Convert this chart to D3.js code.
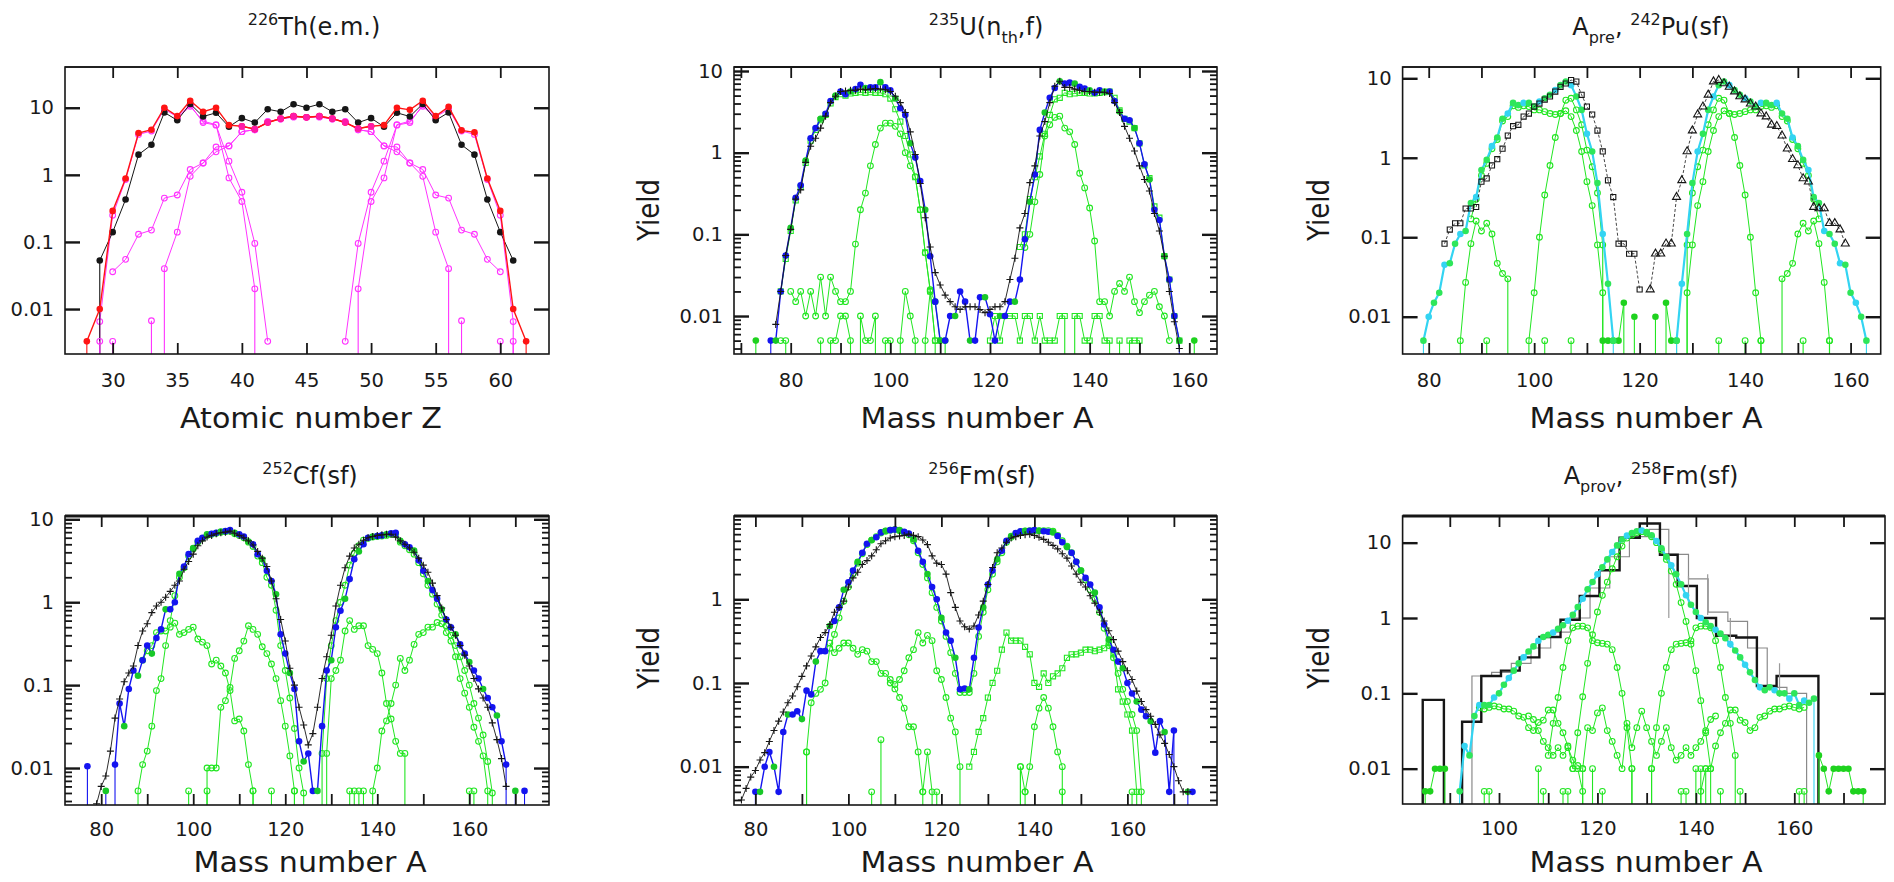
<!DOCTYPE html>
<html>
<head>
<meta charset="utf-8">
<script src="https://cdn.jsdelivr.net/npm/d3@7"></script>
<style>
  body { margin: 0; background: #fff; }
  svg { display: block; }
  text { font-family: "DejaVu Sans", sans-serif; fill: #1a1a1a; white-space: pre; }
</style>
</head>
<body>
<svg id="chart" width="1894" height="882"></svg>
<script>
// ---------- data: yields per mass (or charge) number, series start at the *0 constant ----------

// 226Th (e.m.) - atomic number Z
const thRed0 = 27;
const thRed = [0, 0.0033, 0.01, 0.29, 0.88, 4.2, 4.7, 10, 7.5, 12.7, 8.7, 10, 5.5, 5.3, 4.8, 6.0, 6.9, 7.5, 7.2, 7.5,
  6.9, 6.0, 4.9, 5.3, 5.5, 10, 9.3, 12.7, 7.5, 10.3, 4.6, 4.3, 0.88, 0.29, 0.01, 0.0033, 0];
const thSum0 = 40;
const thSum = [5.3, 4.8, 6.0, 6.9, 7.5, 7.2, 7.5, 6.9, 6.0, 4.9, 5.3];
const thExp0 = 28;
const thExp = [0, 0.053, 0.14, 0.43, 2.0, 2.8, 8.5, 6.5, 11.4, 7.4, 8.4, 5.2, 7.0, 6.0, 9.5, 8.7, 11.3, 10, 11.3, 8.7,
  9.5, 6.0, 7.0, 5.2, 8.4, 7.4, 11.4, 6.5, 8.5, 2.8, 2.0, 0.43, 0.14, 0.053];
const thLtA0 = 28;
const thLtA = [0, 0.0065, 0.25, 0.85, 4.0, 4.5, 9.5, 7.3, 11, 6.0, 5.5, 1.6, 0.55, 0.095, 0.0033];
const thLtB0 = 35;
const thLtB = [7.0, 10.5, 6.3, 5.6, 0.9, 0.4, 0.02, 0];
const thHvA0 = 48;
const thHvA = [0.0033, 0.095, 0.55, 1.6, 5.5, 6.0, 11, 7.3, 9.5, 4.5, 4.0, 0.85, 0.25, 0.0065, 0];
const thHvB0 = 48;
const thHvB = [0, 0.02, 0.4, 0.9, 5.6, 6.3, 10.5, 7.0];
const thBrC0 = 30;
const thBrC = [0.036, 0.055, 0.13, 0.15, 0.45, 0.5, 1.2, 1.5, 2.6, 2.7, 4.4, 4.7, 6.2, 6.8, 7.3, 7.2, 7.3, 6.8, 6.2, 4.7,
  4.4, 2.7, 2.6, 1.5, 1.2, 0.5, 0.45, 0.15, 0.13, 0.055, 0.036];
const thBrD0 = 33;
const thBrD = [0, 0.04, 0.14, 0.95, 1.5, 2.2, 2.7, 4.4, 4.7, 6.2, 6.8, 7.3, 7.2, 7.3, 6.8, 6.2, 4.7, 4.4, 2.7, 2.2,
  1.5, 0.95, 0.14, 0.04, 0];
const thIso = [[29, 0.0033], [30, 0.0033], [33, 0.0067], [57, 0.0067], [60, 0.0033], [61, 0.0033]];

// 235U (nth, f)
const uExp0 = 77;
const uExp = [0.0079, 0.02, 0.055, 0.115, 0.27, 0.35, 0.76, 1.2, 1.5, 2.0,
  2.8, 4.1, 4.9, 5.6, 5.7, 5.8, 5.8, 6.0, 5.9, 6.0,
  6.1, 6.0, 5.9, 5.6, 4.9, 4.1, 3.1, 1.8, 0.95, 0.42,
  0.16, 0.07, 0.034, 0.024, 0.018, 0.015, 0.013, 0.012, 0.013, 0.013,
  0.013, 0.012, 0.011, 0.012, 0.013, 0.013, 0.015, 0.028, 0.051, 0.12,
  0.18, 0.43, 0.69, 1.6, 2.4, 4.1, 6.5, 7.5, 6.3, 6.3,
  6.0, 5.8, 5.6, 5.6, 5.5, 5.5, 5.5, 5.3, 4.1, 3.1,
  2.1, 1.5, 1.05, 0.69, 0.47, 0.34, 0.18, 0.11, 0.054, 0.02,
  0.0085, 0.004];
const uCalc0 = 75;
const uCalc = [0, 0.005, 0.005, 0.02, 0.055, 0.12, 0.28, 0.4, 0.8, 1.5,
  2.0, 2.6, 3.0, 4.3, 5.0, 5.6, 5.2, 5.6, 6.0, 6.8,
  6.2, 6.3, 6.3, 7.3, 6.3, 5.8, 4.6, 3.5, 2.9, 1.3,
  0.87, 0.45, 0.2, 0.054, 0.015, 0.005, 0.005, 0.01, 0.01, 0.02,
  0.015, 0.005, 0.005, 0.017, 0.017, 0.0105, 0.005, 0.01, 0.01, 0.015,
  0.015, 0.028, 0.087, 0.25, 0.54, 1.9, 3.1, 4.7, 6.2, 7.5,
  7.0, 7.2, 7.0, 6.4, 6.1, 5.8, 5.4, 5.8, 5.6, 5.6,
  4.3, 3.2, 2.6, 2.5, 2.0, 1.3, 0.72, 0.47, 0.2, 0.15,
  0.054, 0.028, 0.01, 0.005, 0];
const uBroadL0 = 78;
const uBroadL = [0.02, 0.05, 0.11, 0.26, 0.38, 0.75, 1.4, 1.9, 2.5, 2.9, 4.0, 4.8, 5.2, 5.0, 5.3, 5.4, 5.5, 5.4, 5.5, 5.4,
  5.4, 5.2, 4.6, 3.4, 2.4, 1.6, 0.95, 0.5, 0.2, 0.06, 0.02, 0.005];
const uNarrowL0 = 80;
const uNarrowL = [0.02, 0.015, 0.02, 0.01, 0.02, 0.01, 0.03, 0.01, 0.03, 0.02, 0.015, 0.015, 0.02, 0.076, 0.2, 0.32,
  0.69, 1.26, 2.0, 2.3, 2.3, 2.1, 1.7, 1.0, 0.69, 0.51, 0.2, 0.059, 0.021, 0.005, 0];
const uBroadH0 = 126;
const uBroadH = [0.07, 0.1, 0.27, 0.5, 0.9, 1.7, 2.9, 4.5, 4.7, 5.4, 5.2, 5.3, 5.4, 5.4, 5.3, 5.3, 5.4, 5.5, 5.6, 4.7,
  3.3, 2.6, 2.4, 2.0, 1.3, 0.7, 0.49, 0.22, 0.16, 0.054, 0.028, 0.01, 0.005];
const uNarrowH0 = 127;
const uNarrowH = [0.069, 0.1, 0.25, 0.54, 1.6, 2.2, 2.7, 2.8, 2.0, 1.8, 1.26, 0.56, 0.37, 0.21, 0.083, 0.015, 0.015,
  0.01, 0.02, 0.025, 0.02, 0.03, 0.015, 0.011, 0.015, 0.018, 0.02, 0.013, 0.01, 0.005];
const uNoiseL0 = 78;
const uNoiseL = [0.005, 0.005, 0, 0, 0, 0, 0, 0, 0.005, 0, 0.005, 0.005, 0.01, 0.01, 0.005, 0, 0.01, 0.005, 0.005, 0.01,
  0, 0.005, 0.005, 0, 0.005, 0.02, 0.01, 0.005, 0, 0.005, 0.02, 0.015, 0.005, 0.005, 0];
const uNoiseH0 = 120;
const uNoiseH = [0.005, 0.01, 0.005, 0.01, 0.01, 0.01, 0.005, 0.01, 0.01, 0.005, 0.01, 0.005, 0.005, 0.005, 0.01, 0.01,
  0, 0.01, 0.01, 0.005, 0.005, 0.01, 0.01, 0.005, 0.005, 0, 0.005, 0, 0.005, 0.005, 0.005, 0];
const uIso = [[73, 0.005], [161, 0.005]];

// A_pre, 242Pu (sf)
const puExpL0 = 83;
const puExpL = [0.083, 0.125, 0.15, 0.15, 0.23, 0.23, 0.24, 0.5, 0.55, 0.8, 0.96, 1.3, 1.9, 2.5, 2.6, 3.3, 3.6, 4.4, 4.8,
  5.4, 5.9, 6.8, 7.8, 8.6, 9.5, 9.1, 6.2, 4.4, 3.5, 2.2, 1.2, 0.52, 0.32, 0.083, 0.083, 0.062, 0.062, 0.022];
const puExpH0 = 122;
const puExpH = [0.022, 0.062, 0.062, 0.083, 0.083, 0.32, 0.52, 1.2, 2.2, 3.5, 4.4, 6.2, 9.1, 9.5, 8.6, 7.8, 6.8, 5.9,
  5.4, 4.8, 4.4, 3.6, 3.3, 2.6, 2.5, 1.9, 1.3, 0.96, 0.8, 0.55, 0.5, 0.24, 0.23, 0.23, 0.15, 0.15, 0.125, 0.083];
const puCalcL0 = 78;
const puCalcL = [0, 0.005, 0.01, 0.015, 0.02, 0.045, 0.047, 0.083, 0.11, 0.12, 0.27, 0.32, 0.7, 0.94, 1.4, 1.8, 3.1, 3.6,
  4.9, 4.6, 4.9, 4.9, 4.4, 5.1, 5.6, 6.2, 7.1, 8.2, 9.1, 8.2, 5.9, 4.0, 2.0, 1.2, 0.48, 0.11, 0.026, 0.005, 0];
const puCalcH0 = 126;
const puCalcH = [0, 0.005, 0.026, 0.11, 0.48, 1.2, 2.0, 4.0, 5.9, 8.2, 9.1, 8.2, 7.1, 6.2, 5.6, 5.1, 4.4, 4.9, 4.9, 4.6,
  4.9, 3.6, 3.1, 1.8, 1.4, 0.94, 0.7, 0.32, 0.27, 0.12, 0.11, 0.083, 0.047, 0.045, 0.02, 0.015, 0.01, 0.005, 0];
const puNarrowL0 = 98;
const puNarrowL = [0, 0.005, 0.02, 0.1, 0.34, 0.8, 1.8, 3.6, 5.3, 5.6, 4.0, 2.6, 1.25, 0.77, 0.36, 0.08, 0];
const puNarrowH0 = 128;
const puNarrowH = [0, 0.08, 0.36, 0.77, 1.25, 2.6, 4.0, 5.6, 5.3, 3.6, 1.8, 0.8, 0.34, 0.1, 0.02, 0.005, 0];
const puBroadL0 = 88;
const puBroadL = [0.17, 0.3, 0.6, 0.85, 1.3, 1.7, 2.9, 3.3, 4.5, 4.3, 4.5, 4.4, 4.0, 4.0, 3.8, 3.6, 3.5, 3.6, 3.9, 3.3,
  2.2, 1.2, 0.5, 0.25, 0.08, 0.02, 0];
const puBroadH0 = 128;
const puBroadH = [0, 0.02, 0.08, 0.25, 0.5, 1.2, 2.2, 3.3, 3.9, 3.6, 3.5, 3.6, 3.8, 4.0, 4.0, 4.4, 4.5, 4.3, 4.5, 3.3,
  2.9, 1.7, 1.3, 0.85, 0.6, 0.3, 0.17];
const puSmallL0 = 85;
const puSmallL = [0, 0.005, 0.027, 0.083, 0.16, 0.12, 0.15, 0.11, 0.047, 0.035, 0.03, 0];
const puSmallH0 = 146;
const puSmallH = [0, 0.03, 0.035, 0.047, 0.11, 0.15, 0.12, 0.16, 0.083, 0.027, 0.005, 0];
const puLowMid0 = 112;
const puLowMid = [0, 0.005, 0.005, 0.005, 0.005, 0.015, 0, 0.01, 0, 0, 0, 0.01, 0, 0.015, 0.005, 0.005, 0];
const puIso = [[91, 0.005], [102, 0.005], [107, 0.005], [135, 0.005], [140, 0.005], [143, 0.005], [151, 0.005], [156, 0.005]];

// 252Cf (sf)
const cfExp0 = 79;
const cfExp = [0.0037, 0.006, 0.008, 0.016, 0.04, 0.068, 0.11, 0.14, 0.17, 0.3,
  0.45, 0.55, 0.75, 0.9, 1.0, 1.15, 1.35, 1.6, 1.8, 2.5,
  3.1, 3.8, 4.8, 5.5, 6.1, 6.4, 6.7, 6.9, 7.0, 7.2,
  6.8, 6.4, 6.0, 5.5, 4.9, 4.1, 3.4, 2.7, 1.8, 1.1,
  0.62, 0.34, 0.16, 0.1, 0.054, 0.033, 0.019, 0.026, 0.054, 0.12,
  0.22, 0.4, 0.9, 1.6, 2.6, 3.6, 4.5, 5.0, 5.6, 6.0,
  6.2, 6.4, 6.5, 6.6, 6.6, 6.1, 5.5, 5.0, 4.5, 4.0,
  3.4, 2.8, 2.3, 1.7, 1.2, 0.85, 0.62, 0.5, 0.4, 0.3,
  0.23, 0.17, 0.12, 0.09, 0.07, 0.054, 0.035, 0.022, 0.013, 0.006];
const cfCalc0 = 76;
const cfCalc = [0, 0.0105, 0, 0, 0, 0.0053, 0, 0.011, 0.06, 0.032,
  0.09, 0.15, 0.13, 0.2, 0.3, 0.24, 0.37, 0.47, 0.82, 0.82,
  1.0, 2.2, 2.7, 3.8, 4.5, 5.5, 6.0, 6.6, 6.7, 6.9,
  7.1, 7.2, 7.4, 6.9, 6.6, 6.2, 5.4, 5.0, 3.8, 3.3,
  2.4, 1.8, 1.25, 0.41, 0.24, 0.14, 0.09, 0.021, 0.012, 0.015,
  0.0053, 0.0053, 0.032, 0.15, 0.2, 0.5, 0.79, 1.1, 1.9, 3.3,
  4.1, 5.0, 6.0, 6.2, 6.3, 6.4, 6.6, 6.8, 6.9, 5.5,
  5.0, 4.6, 4.2, 3.2, 2.4, 1.8, 1.4, 1.1, 0.82, 0.62,
  0.5, 0.41, 0.31, 0.24, 0.19, 0.15, 0.12, 0.09, 0.07, 0.054,
  0.043, 0.021, 0.011, 0, 0.0053, 0, 0.0053, 0];
const cfMainL0 = 87;
const cfMainL = [0, 0.0053, 0.011, 0.016, 0.032, 0.086, 0.12, 0.3, 0.6, 1.2, 2.0, 2.6, 3.6, 4.4, 5.3, 5.9, 6.4, 6.6, 6.8,
  7.0, 7.1, 7.2, 6.7, 6.4, 6.0, 5.3, 4.7, 3.6, 3.0, 2.0, 1.6, 0.8, 0.3, 0.15, 0.07, 0.03, 0.01, 0.005, 0];
const cfMainH0 = 127;
const cfMainH = [0, 0.015, 0.12, 0.3, 0.6, 1.0, 1.6, 2.8, 3.9, 4.8, 5.6, 5.9, 6.1, 6.2, 6.3, 6.4, 6.6, 6.6, 5.3, 4.8,
  4.3, 3.8, 3.0, 2.2, 1.6, 1.25, 0.95, 0.7, 0.52, 0.4, 0.3, 0.22, 0.15, 0.1, 0.06, 0.04, 0.025, 0.012, 0.005, 0];
const cfHumpL10 = 89;
const cfHumpL1 = [0.2, 0.26, 0.3, 0.43, 0.45, 0.45, 0.5, 0.56, 0.41, 0.43, 0.47, 0.5, 0.36, 0.33, 0.3, 0.18, 0.2, 0.17,
  0.14, 0.086, 0.037, 0.039, 0.028, 0.011, 0.0053, 0];
const cfHumpL20 = 102;
const cfHumpL2 = [0, 0.01, 0.01, 0.01, 0.054, 0.065, 0.094, 0.21, 0.26, 0.34, 0.52, 0.47, 0.41, 0.29, 0.24, 0.18, 0.12,
  0.065, 0.032, 0.014, 0.0053, 0];
const cfHumpH10 = 128;
const cfHumpH1 = [0, 0.015, 0.12, 0.15, 0.2, 0.45, 0.6, 0.47, 0.52, 0.52, 0.3, 0.27, 0.24, 0.14, 0.06, 0.039, 0.021,
  0.015, 0.015, 0];
const cfHumpH20 = 138;
const cfHumpH2 = [0, 0.0053, 0.01, 0.028, 0.037, 0.06, 0.1, 0.21, 0.15, 0.2, 0.31, 0.41, 0.43, 0.5, 0.5, 0.57, 0.55,
  0.43, 0.34, 0.22, 0.12, 0.08, 0.054, 0.031, 0.021, 0.014, 0.0053, 0];
const cfIso = [[99, 0.0053], [103, 0.0053], [113, 0.0053], [117, 0.0053], [122, 0.0053], [134, 0.0053], [135, 0.0053],
  [136, 0.0053], [137, 0.0053], [160, 0.0053], [161, 0.0053]];

// 256Fm (sf)
const fmExp0 = 77;
const fmExp = [0.004, 0.0055, 0.0075, 0.009, 0.012, 0.0147, 0.02, 0.027, 0.035, 0.045,
  0.058, 0.07, 0.09, 0.12, 0.16, 0.21, 0.27, 0.35, 0.4, 0.5,
  0.7, 0.8, 0.95, 1.4, 1.8, 2.1, 2.6, 2.9, 3.3, 3.9,
  4.6, 5.0, 5.4, 5.6, 5.7, 5.8, 6.0, 5.8, 5.6, 5.1,
  4.5, 3.3, 2.7, 2.6, 2.0, 1.2, 0.8, 0.55, 0.47, 0.44,
  0.48, 0.65, 0.95, 1.5, 2.4, 3.6, 4.1, 4.8, 5.4, 5.6,
  5.8, 5.9, 6.0, 5.8, 5.5, 5.2, 4.8, 4.4, 4.0, 3.5,
  3.1, 2.5, 2.0, 1.6, 1.4, 1.1, 0.9, 0.7, 0.55, 0.42,
  0.33, 0.24, 0.18, 0.14, 0.11, 0.08, 0.06, 0.048, 0.04, 0.032,
  0.024, 0.019, 0.014, 0.01, 0.0068, 0.005, 0.005];
const fmCalc0 = 79;
const fmCalc = [0, 0.005, 0.005, 0.01, 0.015, 0.01, 0.005, 0.026, 0.042, 0.042,
  0.046, 0.037, 0.081, 0.073, 0.18, 0.24, 0.24, 0.48, 0.55, 0.8,
  1.3, 1.6, 2.2, 2.8, 3.6, 4.6, 5.1, 5.5, 6.3, 6.6,
  6.7, 6.8, 6.7, 6.4, 6.1, 5.2, 3.8, 2.8, 2.0, 1.4,
  1.0, 0.6, 0.4, 0.32, 0.2, 0.084, 0.086, 0.084, 0.2, 0.46,
  0.8, 1.5, 2.2, 3.0, 3.8, 5.0, 5.7, 6.2, 6.5, 6.6,
  6.6, 6.7, 6.6, 6.5, 6.4, 6.3, 5.7, 4.8, 4.2, 3.6,
  2.8, 2.2, 1.8, 1.5, 1.2, 0.8, 0.5, 0.33, 0.25, 0.18,
  0.15, 0.1, 0.075, 0.06, 0.048, 0.04, 0.035, 0.0147, 0.035, 0.026,
  0.005, 0.027, 0, 0, 0.005, 0.005];
const fmMain0 = 90;
const fmMain = [0, 0.015, 0.058, 0.075, 0.084, 0.1, 0.26, 0.38, 0.6, 0.95,
  1.4, 2.0, 2.7, 3.5, 4.5, 5.1, 5.6, 6.2, 6.5, 6.7,
  6.8, 6.6, 6.3, 5.9, 5.0, 3.6, 2.6, 1.8, 1.2, 0.8,
  0.55, 0.36, 0.23, 0.13, 0.077, 0.077, 0.077, 0.13, 0.36, 0.7,
  1.3, 2.0, 2.8, 3.6, 4.8, 5.5, 6.1, 6.4, 6.5, 6.6,
  6.6, 6.6, 6.6, 6.6, 6.5, 5.8, 5.0, 4.3, 3.6, 2.8,
  2.2, 1.7, 1.3, 1.0, 0.7, 0.45, 0.28, 0.2, 0.13, 0.084,
  0.06, 0.042, 0.027, 0.005, 0];
const fmLowL0 = 96;
const fmLowL = [0.3, 0.23, 0.26, 0.3, 0.3, 0.26, 0.22, 0.25, 0.24, 0.18, 0.18, 0.13, 0.13, 0.11, 0.096, 0.11, 0.14, 0.2,
  0.25, 0.4, 0.3, 0.37, 0.32, 0.14, 0.11, 0.067, 0.038, 0.026, 0.01, 0];
const fmLowH0 = 126;
const fmLowH = [0.01, 0.015, 0.026, 0.038, 0.067, 0.1, 0.14, 0.25, 0.4, 0.32, 0.32, 0.32, 0.27, 0.22, 0.1, 0.09, 0.13,
  0.1, 0.12, 0.13, 0.15, 0.2, 0.22, 0.22, 0.23, 0.25, 0.25, 0.24, 0.25, 0.26, 0.3, 0.22, 0.084, 0.06, 0.042, 0.027,
  0.005, 0];
const fmDescL0 = 109;
const fmDescL = [0.1, 0.085, 0.067, 0.05, 0.03, 0.03, 0.015, 0.005, 0.015, 0.005, 0];
const fmDescH0 = 136;
const fmDescH = [0, 0.01, 0.005, 0.01, 0.03, 0.05, 0.067, 0.05, 0.03, 0.015, 0.01, 0];
const fmIso = [[91, 0.015], [105, 0.005], [107, 0.021], [116, 0.005], [119, 0.005], [137, 0.01], [138, 0.005],
  [146, 0.005], [161, 0.005]];

// A_prov, 258Fm (sf)
const fm8HistEdges = [84.5, 88.8, 92.5, 96.4, 100.4, 104.2, 108.2, 112.5, 116.4, 120.4, 124.5, 128.6, 132.7, 136.3,
  140.2, 144.1, 148.2, 152.4, 156.4, 160.4, 164.9];
const fm8Hist = [0.082, 0, 0.042, 0.17, 0.2, 0.3, 0.56, 0.95, 1.96, 4.3, 11.6, 18, 6.9, 2.66, 1.0, 0.58, 0.55, 0.125,
  0.17, 0.17];
const fm8Hist2Edges = [94.5, 98.5, 102.5, 106.5, 110.5, 114.5, 118.5, 122.5, 126.5, 130.5, 134.5, 138.5, 142.5, 146.5,
  150.5, 154.5, 158.5, 162.5];
const fm8Hist2 = [0.17, 0.19, 0.25, 0.4, 0.65, 1.0, 2.5, 6.5, 12, 15, 7, 3.3, 1.2, 0.9, 0.4, 0.12, 0.1];
const fm8Err = [[134.5, 1.0, 7.0], [138.5, 1.5, 3.6], [142.4, 1.1, 3.8], [147, 0.4, 1.0], [157, 0.09, 0.25]];
const fm8Calc0 = 91;
const fm8Calc = [0, 0.005, 0.02, 0.015, 0.05, 0.07, 0.07, 0.07, 0.088, 0.1,
  0.13, 0.16, 0.2, 0.25, 0.3, 0.36, 0.42, 0.5, 0.56, 0.6,
  0.64, 0.72, 0.8, 0.92, 1.1, 1.4, 1.8, 2.4, 3.0, 3.8,
  4.7, 6.0, 7.5, 9.2, 11, 12.4, 13.4, 14.2, 14.5, 13.8,
  12.5, 10.5, 8.4, 6.5, 5.0, 3.8, 2.8, 2.0, 1.5, 1.2,
  1.0, 0.88, 0.78, 0.7, 0.62, 0.54, 0.45, 0.37, 0.3, 0.24,
  0.19, 0.15, 0.12, 0.11, 0.12, 0.11, 0.1, 0.1, 0.085, 0.1,
  0.07, 0.08, 0.075, 0.085, 0];
const fm8Main0 = 115;
const fm8Main = [0.01, 0.03, 0.09, 0.25, 0.6, 1.2, 2.0, 3.0, 4.5, 6.5, 9.0, 11.5, 12.6, 13.6, 14.0, 13.4, 12.0, 10.0, 8.0,
  6.0, 4.2, 2.8, 1.6, 0.9, 0.45, 0.2, 0.08, 0.03, 0.01, 0];
const fm8HumpL0 = 110;
const fm8HumpL = [0.015, 0.04, 0.088, 0.22, 0.5, 0.74, 0.78, 0.78, 0.74, 0.5, 0.47, 0.46, 0.45, 0.38, 0.22, 0.1, 0.035,
  0.01, 0];
const fm8HumpH0 = 130;
const fm8HumpH = [0, 0.01, 0.035, 0.1, 0.22, 0.38, 0.45, 0.46, 0.47, 0.5, 0.74, 0.78, 0.78, 0.74, 0.5, 0.22, 0.088,
  0.04, 0.015, 0];
const fm8Zig0 = 106;
const fm8Zig = [0.05, 0.045, 0.032, 0.023, 0.019, 0.015, 0.019, 0.015, 0.019, 0.013, 0.011, 0.01, 0.035, 0.032, 0.055,
  0.064, 0.032, 0.023, 0.015, 0.01, 0.04, 0.019, 0.035, 0.058, 0.035, 0.023, 0.015, 0.023, 0.035, 0.019, 0.013, 0.015,
  0.019, 0.015, 0.019, 0.023, 0.032, 0.045, 0.05];
const fm8BroadL0 = 96;
const fm8BroadL = [0.065, 0.062, 0.065, 0.068, 0.066, 0.062, 0.062, 0.058, 0.05, 0.048, 0.035, 0.032, 0.041, 0.044,
  0.06, 0.06, 0.04, 0.03, 0.02, 0.01, 0.01, 0.005, 0];
const fm8BroadR0 = 140;
const fm8BroadR = [0, 0.005, 0.01, 0.01, 0.02, 0.03, 0.04, 0.06, 0.06, 0.044, 0.041, 0.032, 0.035, 0.048, 0.05, 0.058,
  0.062, 0.062, 0.066, 0.068, 0.065, 0.062, 0.065];
const fm8LowL0 = 84;
const fm8LowL = [0, 0.005, 0.005, 0.01, 0.01, 0.01, 0];
const fm8LowR0 = 164;
const fm8LowR = [0, 0.015, 0.01, 0.005, 0.01, 0.01, 0.01, 0.01, 0.005, 0.005, 0.005, 0];
const fm8Iso = [[97, 0.005], [98, 0.005], [108, 0.01], [109, 0.005], [113, 0.005], [114, 0.005], [117, 0.01],
  [119, 0.01], [121, 0.005], [127, 0.01], [131, 0.01], [137, 0.005], [138, 0.005], [140, 0.01], [141, 0.01],
  [142, 0.01], [145, 0.005], [149, 0.005], [161, 0.005], [162, 0.005]];

// ---------- styles ----------
const GREEN = '#22e622', BLUE = '#1414f0', CYAN = '#33d4f2', BLACK = '#161616', MAG = '#ff33ff', RED = '#ff1414';
const st = {
  exp:   { line: BLACK, lw: 0.9, mark: 'plus', color: BLACK },
  expDot:{ line: BLACK, lw: 1, mark: 'dot', color: BLACK },
  expSq: { line: BLACK, lw: 0.8, mark: 'sq', color: BLACK, dash: '3,2' },
  expTri:{ line: BLACK, lw: 0.8, mark: 'tri', color: BLACK, dash: '3,2' },
  calc:  { line: BLUE, lw: 1.4, mark: 'dot', color: BLUE, alt: '#18c828' },
  calcC: { line: CYAN, lw: 2.2, mark: 'dot', color: '#2ee65a', alt: CYAN },
  red:   { line: RED, lw: 1.4, mark: 'dot', color: RED },
  magDot:{ line: RED, lw: 1.2, mark: 'dot', color: '#ff1aa8' },
  mag:   { line: MAG, lw: 1, mark: 'ring', color: MAG },
  ring:  { line: GREEN, lw: 1, mark: 'ring', color: GREEN },
  sq:    { line: GREEN, lw: 1, mark: 'sq', color: GREEN },
  gdot:  { line: GREEN, lw: 1, mark: 'dot', color: '#1ed21e' }
};
const markPath = {
  dot: d3.symbol(d3.symbolCircle, 34)(),
  ring: d3.symbol(d3.symbolCircle, 26)(),
  sq: d3.symbol(d3.symbolSquare, 26)(),
  tri: d3.symbol(d3.symbolTriangle, 28)(),
  plus: 'M-3.5,0H3.5M0,-3.5V3.5'
};

function run(a0, ys) { return ys.map((v, i) => [a0 + i, v]); }

const panels = [
  { id: 1, l: 65, r: 549, t: 67, b: 354, xd: [26.31, 63.77], yd: [-2.67, 1.607], xt: d3.range(30, 61, 5), xl: d3.range(30, 61, 5),
    minor: false, topW: 1.6, pad: 19,
    title: [['226', 'sup'], ['Th(e.m.)', 'n']], tx: 314, ty: 35, xTitle: 'Atomic number Z', xtx: 311, xty: 428, xtw: 262,
    series: [[thBrC0, thBrC, st.mag], [thBrD0, thBrD, st.mag], [thLtA0, thLtA, st.mag], [thLtB0, thLtB, st.mag],
      [thHvA0, thHvA, st.mag], [thHvB0, thHvB, st.mag], [thExp0, thExp, st.expDot], [thRed0, thRed, st.red],
      [thSum0, thSum, st.magDot]],
    iso: [thIso, st.mag] },
  { id: 2, l: 734, r: 1217, t: 67, b: 354, xd: [68.62, 165.56], yd: [-2.465, 1.049], xt: d3.range(70, 161, 10), xl: d3.range(80, 161, 20),
    minor: true, topW: 2.2, pad: 19,
    title: [['235', 'sup'], ['U(n', 'n'], ['th', 'sub'], [',f)', 'n']], tx: 986, ty: 35, xTitle: 'Mass number A', xtx: 977, xty: 428, xtw: 233,
    yield: [659, 210],
    series: [[uNoiseL0, uNoiseL, st.ring], [uNoiseH0, uNoiseH, st.sq], [uNarrowL0, uNarrowL, st.ring],
      [uNarrowH0, uNarrowH, st.ring], [uBroadL0, uBroadL, st.sq], [uBroadH0, uBroadH, st.sq],
      [uCalc0, uCalc, st.calc], [uExp0, uExp, st.exp]],
    iso: [uIso, st.gdot] },
  { id: 3, l: 1402.6, r: 1880.7, t: 67, b: 354, xd: [75.05, 165.71], yd: [-2.469, 1.142], xt: d3.range(80, 161, 10), xl: d3.range(80, 161, 20),
    minor: false, topW: 1.6, pad: 19,
    title: [['A', 'n'], ['pre', 'sub'], [', ', 'n'], ['242', 'sup'], ['Pu(sf)', 'n']], tx: 1651, ty: 35,
    xTitle: 'Mass number A', xtx: 1646, xty: 428, xtw: 233, yield: [1329, 210],
    series: [[puSmallL0, puSmallL, st.ring], [puSmallH0, puSmallH, st.ring], [puBroadL0, puBroadL, st.ring],
      [puBroadH0, puBroadH, st.ring], [puNarrowL0, puNarrowL, st.ring], [puNarrowH0, puNarrowH, st.ring],
      [puLowMid0, puLowMid, st.gdot], [puCalcL0, puCalcL, st.calcC], [puCalcH0, puCalcH, st.calcC],
      [puExpL0, puExpL, st.expSq], [puExpH0, puExpH, st.expTri]],
    iso: [puIso, st.ring] },
  { id: 4, l: 65, r: 549, t: 516, b: 805, xd: [72.13, 177.32], yd: [-2.446, 1.04], xt: d3.range(80, 171, 10), xl: d3.range(80, 161, 20),
    minor: true, topW: 3.2, pad: 17,
    title: [['252', 'sup'], ['Cf(sf)', 'n']], tx: 310, ty: 484, xTitle: 'Mass number A', xtx: 310, xty: 872, xtw: 233,
    series: [[cfHumpL10, cfHumpL1, st.ring], [cfHumpL20, cfHumpL2, st.ring], [cfHumpH10, cfHumpH1, st.ring],
      [cfHumpH20, cfHumpH2, st.ring], [cfMainL0, cfMainL, st.ring], [cfMainH0, cfMainH, st.ring],
      [cfCalc0, cfCalc, st.calc], [cfExp0, cfExp, st.exp]],
    iso: [cfIso, st.ring] },
  { id: 5, l: 734, r: 1217, t: 516, b: 805, xd: [75.4, 179.27], yd: [-2.458, 0.995], xt: d3.range(80, 171, 10), xl: d3.range(80, 161, 20),
    minor: true, topW: 3.2, pad: 17,
    title: [['256', 'sup'], ['Fm(sf)', 'n']], tx: 982, ty: 484, xTitle: 'Mass number A', xtx: 977, xty: 872, xtw: 233,
    yield: [659, 658],
    series: [[fmDescL0, fmDescL, st.ring], [fmDescH0, fmDescH, st.ring], [fmLowL0, fmLowL, st.ring],
      [fmLowH0, fmLowH, st.sq], [fmMain0, fmMain, st.ring], [fmCalc0, fmCalc, st.calc], [fmExp0, fmExp, st.exp]],
    iso: [fmIso, st.ring] },
  { id: 6, l: 1402.6, r: 1885, t: 516, b: 804, xd: [80.41, 178.43], yd: [-2.469, 1.354], xt: d3.range(90, 171, 10), xl: d3.range(100, 161, 20),
    minor: false, topW: 3.2, pad: 17,
    title: [['A', 'n'], ['prov', 'sub'], [', ', 'n'], ['258', 'sup'], ['Fm(sf)', 'n']], tx: 1651, ty: 484,
    xTitle: 'Mass number A', xtx: 1646, xty: 872, xtw: 233, yield: [1329, 658],
    hist: [[fm8Hist2Edges, fm8Hist2, '#8a8a8a', 1.2], [fm8HistEdges, fm8Hist, BLACK, 2.4]],
    err: fm8Err,
    series: [[fm8Zig0, fm8Zig, st.ring], [fm8BroadL0, fm8BroadL, st.ring], [fm8BroadR0, fm8BroadR, st.ring],
      [fm8HumpL0, fm8HumpL, st.ring], [fm8HumpH0, fm8HumpH, st.ring], [fm8Main0, fm8Main, st.ring],
      [fm8LowL0, fm8LowL, st.gdot], [fm8LowR0, fm8LowR, st.gdot], [fm8Calc0, fm8Calc, st.calcC]],
    iso: [fm8Iso, st.ring] }
];

const svg = d3.select('#chart');

function drawMarks(layer, x, y, pts, s) {
  const filled = s.mark === 'dot';
  layer.append('g').selectAll('path').data(pts).join('path')
    .attr('transform', d => `translate(${x(d[0])},${y(d[1])})`)
    .attr('d', markPath[s.mark])
    .attr('fill', (d, i) => filled ? (s.alt && i % 3 === 1 ? s.alt : s.color) : 'none')
    .attr('stroke', filled ? 'none' : s.color)
    .attr('stroke-width', 1.1);
}

function drawDrops(layer, x, y, bottom, pts, color) {
  layer.append('g').selectAll('line').data(pts).join('line')
    .attr('x1', d => x(d[0])).attr('x2', d => x(d[0]))
    .attr('y1', d => y(d[1])).attr('y2', bottom + 3)
    .attr('stroke', color).attr('stroke-width', 1.1);
}

function drawSeries(layer, x, y, bottom, pts, s) {
  const line = d3.line().defined(d => d[1] > 0).x(d => x(d[0])).y(d => y(d[1]));
  layer.append('path').datum(pts).attr('d', line).attr('fill', 'none')
    .attr('stroke', s.line).attr('stroke-width', s.lw).attr('stroke-dasharray', s.dash || null);
  const drops = pts.filter((d, i) => d[1] > 0 &&
    ((i > 0 && pts[i - 1][1] === 0) || (i < pts.length - 1 && pts[i + 1][1] === 0)));
  drawDrops(layer, x, y, bottom, drops, s.line);
  drawMarks(layer, x, y, pts.filter(d => d[1] > 0), s);
}

function drawHist(layer, x, y, bottom, edges, vals, color, lw) {
  const yy = v => v > 0 ? y(v) : bottom + 3;
  const pts = [[edges[0], 0]];
  vals.forEach((v, i) => { pts.push([edges[i], v], [edges[i + 1], v]); });
  pts.push([edges[edges.length - 1], 0]);
  layer.append('path')
    .attr('d', d3.line().x(d => x(d[0])).y(d => yy(d[1]))(pts))
    .attr('fill', 'none').attr('stroke', color).attr('stroke-width', lw);
}

function drawTitle(parts, cx, by) {
  const t = svg.append('text').attr('x', cx).attr('y', by).attr('text-anchor', 'middle').attr('font-size', 24);
  let shift = 0;
  parts.forEach(([s, kind]) => {
    const target = kind === 'sup' ? -10 : kind === 'sub' ? 8 : 0;
    t.append('tspan').attr('dy', target - shift).attr('font-size', kind === 'n' ? 24 : 16).text(s);
    shift = target;
  });
}

function styleAxis(g, w) {
  g.select('.domain').remove();
  g.selectAll('line').attr('stroke', BLACK).attr('stroke-width', w);
  g.attr('font-family', 'DejaVu Sans').attr('font-size', 19.5);
  g.selectAll('text').attr('fill', '#1f1f1f');
}

panels.forEach(p => {
  const x = d3.scaleLinear().domain(p.xd).range([p.l, p.r]);
  const y = d3.scaleLog().domain([Math.pow(10, p.yd[0]), Math.pow(10, p.yd[1])]).range([p.b, p.t]);

  svg.append('clipPath').attr('id', 'clip' + p.id).append('rect')
    .attr('x', p.l).attr('y', p.t).attr('width', p.r - p.l).attr('height', p.b - p.t);
  const plot = svg.append('g').attr('clip-path', `url(#clip${p.id})`);

  if (p.hist) p.hist.forEach(([e, v, c, w]) => drawHist(plot, x, y, p.b, e, v, c, w));
  if (p.err) {
    plot.append('g').selectAll('line').data(p.err).join('line')
      .attr('x1', d => x(d[0])).attr('x2', d => x(d[0]))
      .attr('y1', d => y(d[1])).attr('y2', d => y(d[2]))
      .attr('stroke', '#9a9a9a').attr('stroke-width', 1.2);
  }
  p.series.forEach(([a0, ys, s]) => drawSeries(plot, x, y, p.b, run(a0, ys), s));
  if (p.iso) {
    drawDrops(plot, x, y, p.b, p.iso[0], p.iso[1].line);
    drawMarks(plot, x, y, p.iso[0], p.iso[1]);
  }

  // axes
  const lo = Math.floor(p.yd[0]), hi = Math.ceil(p.yd[1]);
  const inY = v => v >= Math.pow(10, p.yd[0]) && v <= Math.pow(10, p.yd[1]) * 1.001;
  const majors = d3.range(lo, hi + 1).map(k => Math.pow(10, k)).filter(inY);
  const minors = [];
  d3.range(lo, hi + 1).forEach(k => d3.range(2, 10).forEach(m => { const v = m * Math.pow(10, k); if (inY(v)) minors.push(v); }));

  svg.append('g').attr('transform', `translate(${p.l},0)`)
    .call(d3.axisLeft(y).tickValues(majors).tickSizeInner(-15).tickSizeOuter(0).tickPadding(11).tickFormat(d3.format('~g')))
    .call(g => styleAxis(g, 2.4));
  svg.append('g').attr('transform', `translate(${p.r},0)`)
    .call(d3.axisRight(y).tickValues(majors).tickSizeInner(-15).tickSizeOuter(0).tickFormat(''))
    .call(g => styleAxis(g, 2.4));
  if (p.minor) {
    svg.append('g').attr('transform', `translate(${p.l},0)`)
      .call(d3.axisLeft(y).tickValues(minors).tickSizeInner(-7).tickSizeOuter(0).tickFormat(''))
      .call(g => styleAxis(g, 1.8));
    svg.append('g').attr('transform', `translate(${p.r},0)`)
      .call(d3.axisRight(y).tickValues(minors).tickSizeInner(-7).tickSizeOuter(0).tickFormat(''))
      .call(g => styleAxis(g, 1.8));
  }
  svg.append('g').attr('transform', `translate(0,${p.b})`)
    .call(d3.axisBottom(x).tickValues(p.xt).tickSizeInner(-11).tickSizeOuter(0).tickPadding(p.pad)
      .tickFormat(d => p.xl.includes(d) ? d : ''))
    .call(g => styleAxis(g, 1.8));
  svg.append('g').attr('transform', `translate(0,${p.t})`)
    .call(d3.axisTop(x).tickValues(p.xt).tickSizeInner(-11).tickSizeOuter(0).tickFormat(''))
    .call(g => styleAxis(g, 1.8));

  // frame
  svg.append('rect').attr('x', p.l).attr('y', p.t).attr('width', p.r - p.l).attr('height', p.b - p.t)
    .attr('fill', 'none').attr('stroke', BLACK).attr('stroke-width', 1.6);
  svg.append('line').attr('x1', p.l).attr('x2', p.r).attr('y1', p.t).attr('y2', p.t)
    .attr('stroke', BLACK).attr('stroke-width', p.topW);

  // texts
  drawTitle(p.title, p.tx, p.ty);
  svg.append('text').attr('x', p.xtx).attr('y', p.xty).attr('text-anchor', 'middle').attr('font-size', 29)
    .attr('textLength', p.xtw).attr('lengthAdjust', 'spacingAndGlyphs').text(p.xTitle);
  if (p.yield) {
    svg.append('text').attr('transform', `translate(${p.yield[0]},${p.yield[1]}) rotate(-90)`)
      .attr('text-anchor', 'middle').attr('font-size', 30)
      .attr('textLength', 62).attr('lengthAdjust', 'spacingAndGlyphs').text('Yield');
  }
});
</script>
</body>
</html>
